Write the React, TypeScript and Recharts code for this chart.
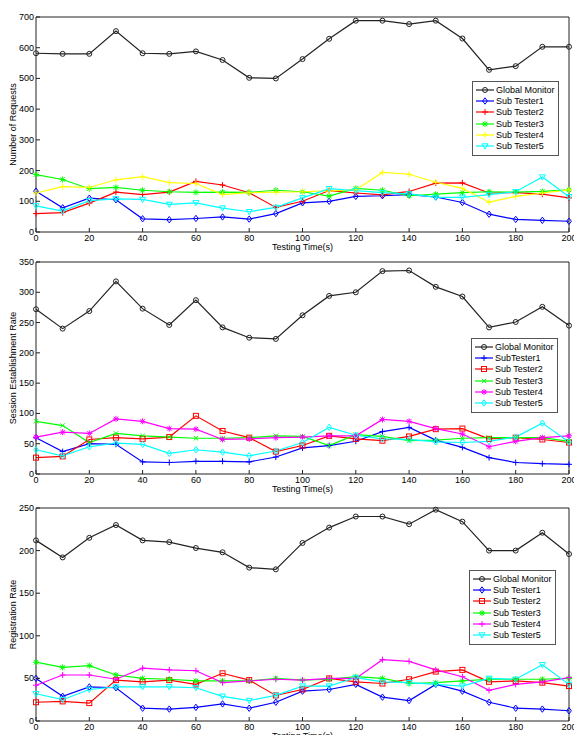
import { LineChart, Line, XAxis, YAxis, Legend } from 'recharts'

const times = [0, 10, 20, 30, 40, 50, 60, 70, 80, 90, 100, 110, 120, 130, 140, 150, 160, 170, 180, 190, 200]
const xTicks = [0, 20, 40, 60, 80, 100, 120, 140, 160, 180, 200]

// Number of Requests
const reqGlobal = [582, 580, 580, 654, 582, 580, 588, 560, 502, 500, 563, 629, 688, 688, 677, 688, 630, 528, 540, 603, 603]
const reqTester1 = [133, 79, 110, 105, 43, 40, 44, 49, 42, 60, 95, 100, 116, 118, 122, 114, 96, 58, 41, 38, 35]
const reqTester2 = [60, 63, 94, 130, 122, 130, 165, 153, 128, 80, 100, 135, 127, 121, 132, 159, 160, 127, 128, 123, 111]
const reqTester3 = [187, 171, 141, 145, 136, 131, 129, 130, 129, 136, 131, 117, 142, 136, 118, 123, 128, 131, 130, 132, 137]
const reqTester4 = [127, 148, 145, 170, 180, 161, 158, 122, 128, 130, 131, 134, 137, 194, 188, 162, 142, 97, 116, 127, 137]
const reqTester5 = [85, 68, 102, 108, 106, 90, 95, 78, 66, 80, 111, 141, 135, 128, 124, 113, 113, 122, 131, 179, 115]

// Session Establishment Rate
const sesGlobal = [272, 240, 269, 318, 273, 246, 287, 242, 225, 223, 262, 294, 300, 335, 336, 309, 293, 242, 251, 276, 245]
const sesTester1 = [60, 37, 50, 49, 20, 19, 21, 21, 20, 28, 43, 47, 54, 70, 77, 56, 44, 27, 19, 17, 16]
const sesTester2 = [27, 29, 57, 60, 58, 61, 96, 71, 60, 37, 47, 63, 58, 55, 62, 74, 75, 58, 60, 57, 52]
const sesTester3 = [87, 80, 52, 67, 63, 61, 59, 59, 60, 63, 62, 47, 65, 62, 55, 56, 59, 60, 60, 60, 54]
const sesTester4 = [61, 69, 67, 91, 87, 75, 74, 57, 58, 60, 61, 63, 63, 90, 87, 75, 66, 45, 54, 60, 63]
const sesTester5 = [40, 30, 45, 51, 49, 34, 40, 36, 30, 38, 52, 77, 64, 58, 57, 53, 52, 54, 61, 84, 53]

// Registration Rate
const regGlobal = [212, 192, 215, 230, 212, 210, 203, 198, 180, 178, 209, 227, 240, 240, 231, 248, 234, 200, 200, 221, 196]
const regTester1 = [50, 29, 40, 39, 15, 14, 16, 20, 15, 22, 35, 37, 43, 28, 24, 43, 35, 22, 15, 14, 12]
const regTester2 = [22, 23, 21, 48, 46, 48, 43, 56, 48, 30, 37, 50, 46, 44, 49, 58, 60, 46, 47, 45, 41]
const regTester3 = [69, 63, 65, 54, 50, 49, 47, 47, 47, 50, 48, 49, 52, 50, 44, 45, 47, 49, 49, 49, 50]
const regTester4 = [42, 54, 54, 49, 62, 60, 59, 45, 47, 49, 48, 50, 50, 72, 70, 60, 52, 36, 43, 46, 51]
const regTester5 = [32, 25, 37, 40, 40, 40, 39, 29, 24, 30, 41, 41, 51, 46, 45, 43, 41, 50, 49, 66, 43]

const BLACK = '#222'
const FONT = '"Liberation Sans", Arial, sans-serif'

type Kind = 'o' | 'd' | 's' | 'v' | '+' | 'x' | '*'
interface Series { key: string; name: string; color: string; marker: Kind; values: number[] }

function Marker({ cx, cy, color, kind }: { cx?: number; cy?: number; color: string; kind: Kind }) {
  if (cx == null || cy == null) return null
  const s = { stroke: color, strokeWidth: 1, fill: 'none' }
  const plus = `M${cx - 3},${cy}H${cx + 3}M${cx},${cy - 3}V${cy + 3}`
  const cross = `M${cx - 2.2},${cy - 2.2}L${cx + 2.2},${cy + 2.2}M${cx - 2.2},${cy + 2.2}L${cx + 2.2},${cy - 2.2}`
  switch (kind) {
    case 'o':
      return <circle cx={cx} cy={cy} r={2.5} {...s} />
    case 'd':
      return <polygon points={`${cx},${cy - 3.2} ${cx + 2.4},${cy} ${cx},${cy + 3.2} ${cx - 2.4},${cy}`} {...s} />
    case 's':
      return <rect x={cx - 2.5} y={cy - 2.5} width={5} height={5} {...s} />
    case 'v':
      return <polygon points={`${cx - 3},${cy - 2.2} ${cx + 3},${cy - 2.2} ${cx},${cy + 3}`} {...s} />
    case '+':
      return <path d={plus} {...s} />
    case 'x':
      return <path d={cross} {...s} />
    default:
      return <path d={plus + cross} {...s} />
  }
}

function LegendBox({ series }: { series: Series[] }) {
  return (
    <div style={{ border: '1px solid #555', background: '#fff', padding: '2px 3px 3px 2px', fontFamily: FONT, fontSize: 9, color: '#000' }}>
      {series.map((s) => (
        <div key={s.key} style={{ display: 'flex', alignItems: 'center', height: 11.3, whiteSpace: 'nowrap' }}>
          <svg width={20} height={10}>
            <line x1={1} x2={19} y1={5} y2={5} stroke={s.color} strokeWidth={1.2} />
            <Marker cx={10} cy={5} color={s.color} kind={s.marker} />
          </svg>
          <span style={{ marginLeft: 1 }}>{s.name}</span>
        </div>
      ))}
    </div>
  )
}

function BottomTick(props: any) {
  const { x, y, payload } = props
  return (
    <g>
      <line x1={x} x2={x} y1={y} y2={y - 4} stroke={BLACK} />
      <text x={x} y={y + 9} textAnchor="middle" fontSize={9} fill="#000">{payload.value}</text>
    </g>
  )
}

function LeftTick(props: any) {
  const { x, y, payload } = props
  return (
    <g>
      <line x1={x} x2={x + 4} y1={y} y2={y} stroke={BLACK} />
      <text x={x - 2} y={y + 3} textAnchor="end" fontSize={9} fill="#000">{payload.value}</text>
    </g>
  )
}

interface PanelProps {
  top: number
  plotHeight: number
  yMax: number
  yTicks: number[]
  yLabel: string
  series: Series[]
  legendTop: number
  legendLeft: number
}

function Panel({ top, plotHeight, yMax, yTicks, yLabel, series, legendTop, legendLeft }: PanelProps) {
  const data = times.map((t, i) => {
    const row: Record<string, number> = { t }
    series.forEach((s) => (row[s.key] = s.values[i]))
    return row
  })
  return (
    <div style={{ position: 'absolute', left: 0, top: top - 5 }}>
      <LineChart width={574} height={plotHeight + 35} data={data} margin={{ top: 5, right: 5, left: 0, bottom: 0 }}>
        <XAxis
          dataKey="t"
          type="number"
          domain={[0, 200]}
          ticks={xTicks}
          interval={0}
          height={30}
          tickSize={0}
          tickMargin={0}
          tickLine={false}
          axisLine={{ stroke: BLACK }}
          tick={<BottomTick />}
          label={{ value: 'Testing Time(s)', position: 'insideTop', offset: 12, fontSize: 9, fill: '#000' }}
        />
        <XAxis xAxisId="top" orientation="top" mirror type="number" domain={[0, 200]} allowDataOverflow ticks={xTicks} interval={0} tick={false} tickSize={4} tickLine={{ stroke: BLACK }} axisLine={{ stroke: BLACK }} />
        <YAxis
          type="number"
          domain={[0, yMax]}
          ticks={yTicks}
          interval={0}
          width={36}
          tickSize={0}
          tickMargin={0}
          tickLine={false}
          axisLine={{ stroke: BLACK }}
          tick={<LeftTick />}
          label={(p: any) => {
            const vb = p.viewBox
            const cx = vb.x + 13
            const cy = vb.y + vb.height / 2
            return (
              <text x={cx} y={cy} transform={`rotate(-90, ${cx}, ${cy})`} textAnchor="middle" dominantBaseline="central" fontSize={9} fill="#000">
                {yLabel}
              </text>
            )
          }}
        />
        <YAxis yAxisId="right" orientation="right" mirror type="number" domain={[0, yMax]} allowDataOverflow ticks={yTicks} interval={0} tick={false} tickSize={4} tickLine={{ stroke: BLACK }} axisLine={{ stroke: BLACK }} />
        <Legend
          layout="vertical"
          align="center"
          verticalAlign="middle"
          wrapperStyle={{ top: legendTop, left: legendLeft, width: 'auto' }}
          content={() => <LegendBox series={series} />}
        />
        {series.map((s) => (
          <Line
            key={s.key}
            dataKey={s.key}
            name={s.name}
            stroke={s.color}
            strokeWidth={1.2}
            type="linear"
            isAnimationActive={false}
            dot={(p: any) => <Marker key={`${s.key}-${p.index}`} cx={p.cx} cy={p.cy} color={s.color} kind={s.marker} />}
            activeDot={false}
          />
        ))}
      </LineChart>
    </div>
  )
}

const reqSeries: Series[] = [
  { key: 'g', name: 'Global Monitor', color: BLACK, marker: 'o', values: reqGlobal },
  { key: 's1', name: 'Sub Tester1', color: '#0000ff', marker: 'd', values: reqTester1 },
  { key: 's2', name: 'Sub Tester2', color: '#ff0000', marker: '+', values: reqTester2 },
  { key: 's3', name: 'Sub Tester3', color: '#00ff00', marker: '*', values: reqTester3 },
  { key: 's4', name: 'Sub Tester4', color: '#ffff00', marker: '+', values: reqTester4 },
  { key: 's5', name: 'Sub Tester5', color: '#00ffff', marker: 'v', values: reqTester5 },
]

const sesSeries: Series[] = [
  { key: 'g', name: 'Global Monitor', color: BLACK, marker: 'o', values: sesGlobal },
  { key: 's1', name: 'SubTester1', color: '#0000ff', marker: '+', values: sesTester1 },
  { key: 's2', name: 'Sub Tester2', color: '#ff0000', marker: 's', values: sesTester2 },
  { key: 's3', name: 'Sub Tester3', color: '#00ff00', marker: 'x', values: sesTester3 },
  { key: 's4', name: 'Sub Tester4', color: '#ff00ff', marker: '*', values: sesTester4 },
  { key: 's5', name: 'Sub Tester5', color: '#00ffff', marker: 'd', values: sesTester5 },
]

const regSeries: Series[] = [
  { key: 'g', name: 'Global Monitor', color: BLACK, marker: 'o', values: regGlobal },
  { key: 's1', name: 'Sub Tester1', color: '#0000ff', marker: 'd', values: regTester1 },
  { key: 's2', name: 'Sub Tester2', color: '#ff0000', marker: 's', values: regTester2 },
  { key: 's3', name: 'Sub Tester3', color: '#00ff00', marker: '*', values: regTester3 },
  { key: 's4', name: 'Sub Tester4', color: '#ff00ff', marker: '+', values: regTester4 },
  { key: 's5', name: 'Sub Tester5', color: '#00ffff', marker: 'v', values: regTester5 },
]

export default function App() {
  return (
    <div style={{ position: 'absolute', left: 0, top: 0, width: 574, height: 735, overflow: 'hidden', background: '#fff', fontFamily: FONT }}>
      <Panel top={17} plotHeight={215} yMax={700} yTicks={[0, 100, 200, 300, 400, 500, 600, 700]} yLabel="Number of Requests" series={reqSeries} legendTop={69} legendLeft={472} />
      <Panel top={262} plotHeight={212} yMax={350} yTicks={[0, 50, 100, 150, 200, 250, 300, 350]} yLabel="Session Establishment Rate" series={sesSeries} legendTop={81} legendLeft={471} />
      <Panel top={508} plotHeight={213} yMax={250} yTicks={[0, 50, 100, 150, 200, 250]} yLabel="Registration Rate" series={regSeries} legendTop={67} legendLeft={469} />
    </div>
  )
}
